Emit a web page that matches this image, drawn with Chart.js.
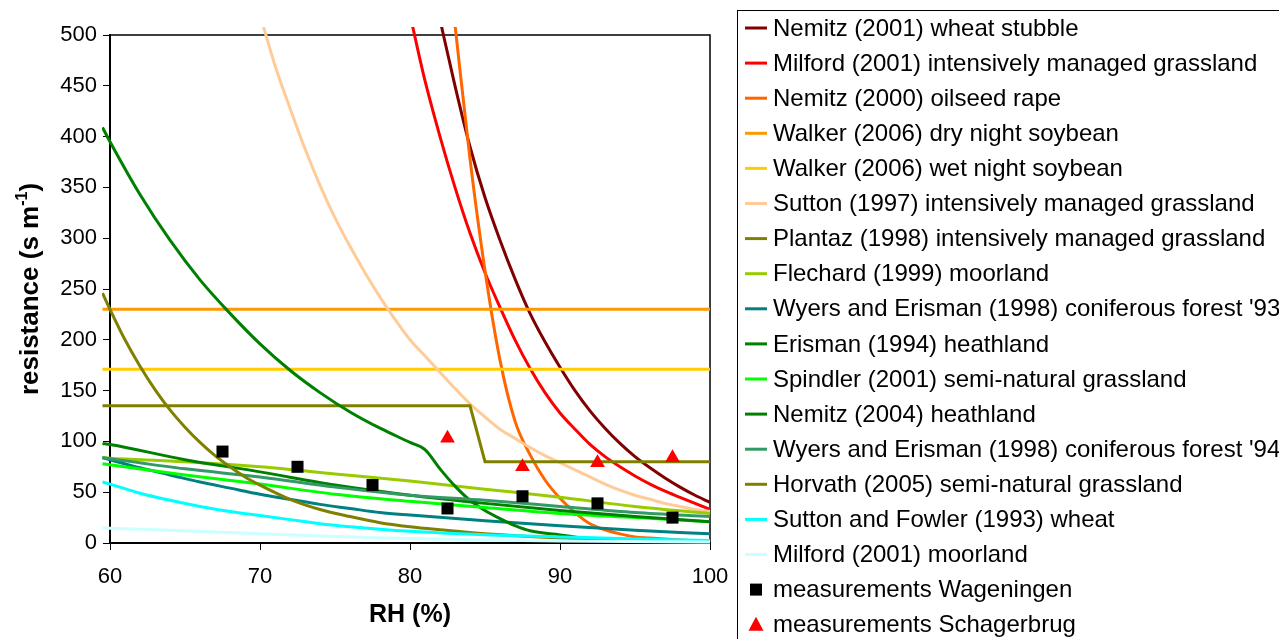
<!DOCTYPE html>
<html>
<head>
<meta charset="utf-8">
<script src="https://cdn.jsdelivr.net/npm/chart.js@4"></script>
<style>
  html, body { margin: 0; padding: 0; background: #fff; }
  canvas { display: block; }
</style>
</head>
<body>
<canvas id="grafico" width="1279" height="639"></canvas>
<script>
// values (RH in %, resistance in s m-1)
const rhNemitz2001 = [82, 83, 84, 85, 86, 87, 88, 89, 90, 91, 92, 93, 94, 95, 96, 97, 98, 99, 100];
const resNemitz2001 = [515, 450, 390, 340, 298, 260, 226, 198, 173, 150, 130, 113, 98, 85, 74, 64, 55, 47, 40];

const rhMilfordGrass = [80, 81, 82, 83, 84, 85, 86, 87, 88, 89, 90, 91, 92, 93, 94, 95, 96, 97, 98, 99, 100];
const resMilfordGrass = [520, 455, 400, 350, 305, 266, 232, 200, 172, 148, 128, 112, 97, 85, 75, 66, 58, 51, 45, 39, 33];

const rhNemitz2000 = [83, 84, 85, 86, 87, 88, 89, 90, 91, 92, 93, 94, 95, 96, 97, 98, 99, 100];
const resNemitz2000 = [510, 378, 268, 180, 120, 87, 62, 44, 30, 19, 13, 9, 6, 5, 4, 3, 2, 2];

const rhFlat = [59.5, 100];
const resWalkerDry = [230, 230];
const resWalkerWet = [171, 171];

const rhSutton1997 = [70, 71, 72, 73, 74, 75, 76, 77, 78, 79, 80, 81, 82, 83, 84, 85, 86, 87, 88, 89, 90, 91, 92, 93, 94, 95, 96, 97, 98, 99, 100];
const resSutton1997 = [520, 470, 428, 388, 352, 320, 292, 266, 242, 220, 200, 184, 168, 152, 137, 124, 112, 103, 94, 86, 79, 72, 65, 58, 52, 47, 43, 39, 36, 33, 31];

const rhPlantaz = [59.5, 84, 85, 100];
const resPlantaz = [135, 135, 80, 80];

const rhCoarse = [59.5, 60, 65, 70, 75, 80, 85, 90, 95, 100];
const resFlechard = [84, 83.5, 80, 75, 68, 61, 53, 45, 36, 29];
const resSpindler = [78, 77, 67, 58, 48, 41, 35, 29, 25, 21];
const resNemitz2004 = [98, 97, 82, 70, 57, 47, 39, 32, 26, 21];
const resWyers94 = [84, 83, 73, 65, 55, 47, 42, 36, 30, 26];

const rhWyers93 = [59.5, 60, 62, 64, 66, 68, 70, 72, 74, 76, 78, 80, 85, 90, 95, 100];
const resWyers93 = [84, 82, 74, 67, 60, 54, 48, 43, 38, 34, 30, 27.5, 22, 17, 12.5, 9];

const rhErisman = [59.5, 60, 62, 64, 66, 68, 70, 72, 74, 76, 78, 80, 81, 82, 83, 84, 85, 86, 87, 88, 90, 92, 95, 100];
const resErisman = [409, 395, 343, 298, 259, 226, 196, 170, 148, 129, 113, 99, 92, 73, 56, 42, 32, 24, 17, 12, 8, 4, 2, 1];

const rhHorvath = [59.5, 60, 61, 62, 63, 64, 65, 66, 67, 68, 69, 70, 72, 74, 76, 78, 80, 82, 85, 90, 95, 100];
const resHorvath = [246, 230, 200, 174, 151, 131, 114, 99, 86, 75, 65, 57, 43, 33, 26, 20, 16, 13, 9, 5, 3, 2];

const rhSuttonFowler = [59.5, 60, 62, 64, 66, 68, 70, 72, 74, 76, 78, 80, 85, 90, 95, 100];
const resSuttonFowler = [60, 58, 49, 42, 36, 31, 27, 23, 19, 16, 13.5, 11.5, 8, 6, 4, 2.5];

const rhMilfordMoor = [59.5, 60, 65, 70, 75, 80, 85, 90, 100];
const resMilfordMoor = [15, 14.6, 12, 9, 6.5, 4.5, 3, 2, 1];

const rhWageningen = [67.5, 72.5, 77.5, 82.5, 87.5, 92.5, 97.5];
const resWageningen = [90, 75, 57, 34, 46, 39, 25];

const rhSchagerbrug = [82.5, 87.5, 92.5, 97.5];
const resSchagerbrug = [103, 75, 79, 84];

const xTicks = [60, 70, 80, 90, 100];
const yTicks = [0, 50, 100, 150, 200, 250, 300, 350, 400, 450, 500];

const fuente = "'Liberation Sans', Arial, sans-serif";

function puntos(xs, ys) {
  return xs.map((x, i) => ({ x: x, y: ys[i] }));
}

function curva(label, color, xs, ys, opciones) {
  return Object.assign({
    label: label,
    data: puntos(xs, ys),
    borderColor: color,
    backgroundColor: color,
    borderWidth: 3,
    pointRadius: 0,
    showLine: true,
    fill: false,
    cubicInterpolationMode: 'monotone',
    clip: { left: 8, top: 8, right: 2, bottom: 2 }
  }, opciones || {});
}

function medicion(label, color, estilo, xs, ys) {
  return {
    label: label,
    data: puntos(xs, ys),
    showLine: false,
    pointStyle: estilo,
    pointRadius: 8.5,
    pointBackgroundColor: color,
    pointBorderColor: color,
    borderColor: color,
    backgroundColor: color,
    pointBorderWidth: 0
  };
}

const recta = { tension: 0, cubicInterpolationMode: 'default' };

const datasets = [
  curva('Nemitz (2001) wheat stubble', '#800000', rhNemitz2001, resNemitz2001),
  curva('Milford (2001) intensively managed grassland', '#FF0000', rhMilfordGrass, resMilfordGrass),
  curva('Nemitz (2000) oilseed rape', '#FF6600', rhNemitz2000, resNemitz2000),
  curva('Walker (2006) dry night soybean', '#FF9900', rhFlat, resWalkerDry, recta),
  curva('Walker (2006) wet night soybean', '#FFCC00', rhFlat, resWalkerWet, recta),
  curva('Sutton (1997) intensively managed grassland', '#FFCC99', rhSutton1997, resSutton1997),
  curva('Plantaz (1998) intensively managed grassland', '#808000', rhPlantaz, resPlantaz, recta),
  curva('Flechard (1999) moorland', '#99CC00', rhCoarse, resFlechard),
  curva("Wyers and Erisman (1998) coniferous forest '93", '#008080', rhWyers93, resWyers93),
  curva('Erisman (1994) heathland', '#008000', rhErisman, resErisman),
  curva('Spindler (2001) semi-natural grassland', '#00FF00', rhCoarse, resSpindler),
  curva('Nemitz (2004) heathland', '#008000', rhCoarse, resNemitz2004),
  curva("Wyers and Erisman (1998) coniferous forest '94", '#339966', rhCoarse, resWyers94),
  curva('Horvath (2005) semi-natural grassland', '#808000', rhHorvath, resHorvath),
  curva('Sutton and Fowler (1993) wheat', '#00FFFF', rhSuttonFowler, resSuttonFowler),
  curva('Milford (2001) moorland', '#CCFFFF', rhMilfordMoor, resMilfordMoor),
  medicion('measurements Wageningen', '#000000', 'rect', rhWageningen, resWageningen),
  medicion('measurements Schagerbrug', '#FF0000', 'triangle', rhSchagerbrug, resSchagerbrug)
];

// later series on top, like the original
datasets.forEach((d, i) => { d.order = -i; });

const extras = {
  id: 'extras',
  beforeDatasetsDraw(chart) {
    const { ctx, chartArea: a } = chart;
    ctx.save();
    ctx.strokeStyle = '#000';
    ctx.lineWidth = 1.5;
    ctx.beginPath();
    ctx.moveTo(a.left, a.top);
    ctx.lineTo(a.right, a.top);
    ctx.lineTo(a.right, a.bottom);
    ctx.stroke();
    ctx.restore();
  },
  afterDraw(chart) {
    const { ctx, chartArea: a } = chart;
    ctx.save();
    ctx.fillStyle = '#000';

    // x axis title
    ctx.font = 'bold 25px ' + fuente;
    ctx.textAlign = 'center';
    ctx.textBaseline = 'middle';
    ctx.fillText('RH (%)', (a.left + a.right) / 2, 615);

    // y axis title with superscript
    ctx.save();
    ctx.translate(38, 289);
    ctx.rotate(-Math.PI / 2);
    ctx.textAlign = 'left';
    ctx.textBaseline = 'alphabetic';
    const t1 = 'resistance (s m', t2 = '-1', t3 = ')';
    ctx.font = 'bold 26px ' + fuente;
    const w1 = ctx.measureText(t1).width;
    const w3 = ctx.measureText(t3).width;
    ctx.font = 'bold 16px ' + fuente;
    const w2 = ctx.measureText(t2).width;
    let x = -(w1 + w2 + w3) / 2;
    ctx.font = 'bold 26px ' + fuente;
    ctx.fillText(t1, x, 0);
    x += w1;
    ctx.font = 'bold 16px ' + fuente;
    ctx.fillText(t2, x, -11);
    x += w2;
    ctx.font = 'bold 26px ' + fuente;
    ctx.fillText(t3, x, 0);
    ctx.restore();

    // legend box
    ctx.strokeStyle = '#000';
    ctx.lineWidth = 1;
    ctx.strokeRect(737.5, 10.5, 600, 700);
    ctx.font = '24px ' + fuente;
    ctx.textAlign = 'left';
    ctx.textBaseline = 'middle';
    chart.data.datasets.forEach((d, i) => {
      const y = 28 + i * 35.1;
      if (d.showLine) {
        ctx.strokeStyle = d.borderColor;
        ctx.lineWidth = 3;
        ctx.beginPath();
        ctx.moveTo(745, y);
        ctx.lineTo(767, y);
        ctx.stroke();
      } else {
        ctx.fillStyle = d.pointBackgroundColor;
        ctx.beginPath();
        if (d.pointStyle === 'rect') {
          ctx.rect(750, y - 6, 12, 12);
        } else {
          ctx.moveTo(756, y - 8);
          ctx.lineTo(763.5, y + 6);
          ctx.lineTo(748.5, y + 6);
          ctx.closePath();
        }
        ctx.fill();
      }
      ctx.fillStyle = '#000';
      ctx.fillText(d.label, 773, y + 1);
    });
    ctx.restore();
  }
};

new Chart(document.getElementById('grafico'), {
  type: 'scatter',
  data: { datasets: datasets },
  options: {
    responsive: false,
    animation: false,
    devicePixelRatio: 1,
    layout: { padding: { top: 35, right: 569, left: 0, bottom: 0 } },
    plugins: {
      legend: { display: false },
      tooltip: { enabled: false }
    },
    scales: {
      x: {
        type: 'linear',
        min: 60,
        max: 100,
        afterBuildTicks: (s) => { s.ticks = xTicks.map(v => ({ value: v })); },
        afterFit: (s) => { s.height = 96; },
        ticks: { color: '#000', font: { family: fuente, size: 22 }, padding: 14 },
        grid: { drawOnChartArea: false, tickLength: 7, tickColor: '#000', tickWidth: 1 },
        border: { color: '#000', width: 2 }
      },
      y: {
        type: 'linear',
        min: 0,
        max: 500,
        afterBuildTicks: (s) => { s.ticks = yTicks.map(v => ({ value: v })); },
        afterFit: (s) => { s.width = 110; },
        ticks: { color: '#000', font: { family: fuente, size: 22 }, padding: 6 },
        grid: { drawOnChartArea: false, tickLength: 7, tickColor: '#000', tickWidth: 1 },
        border: { color: '#000', width: 2 }
      }
    }
  },
  plugins: [extras]
});
</script>
</body>
</html>
